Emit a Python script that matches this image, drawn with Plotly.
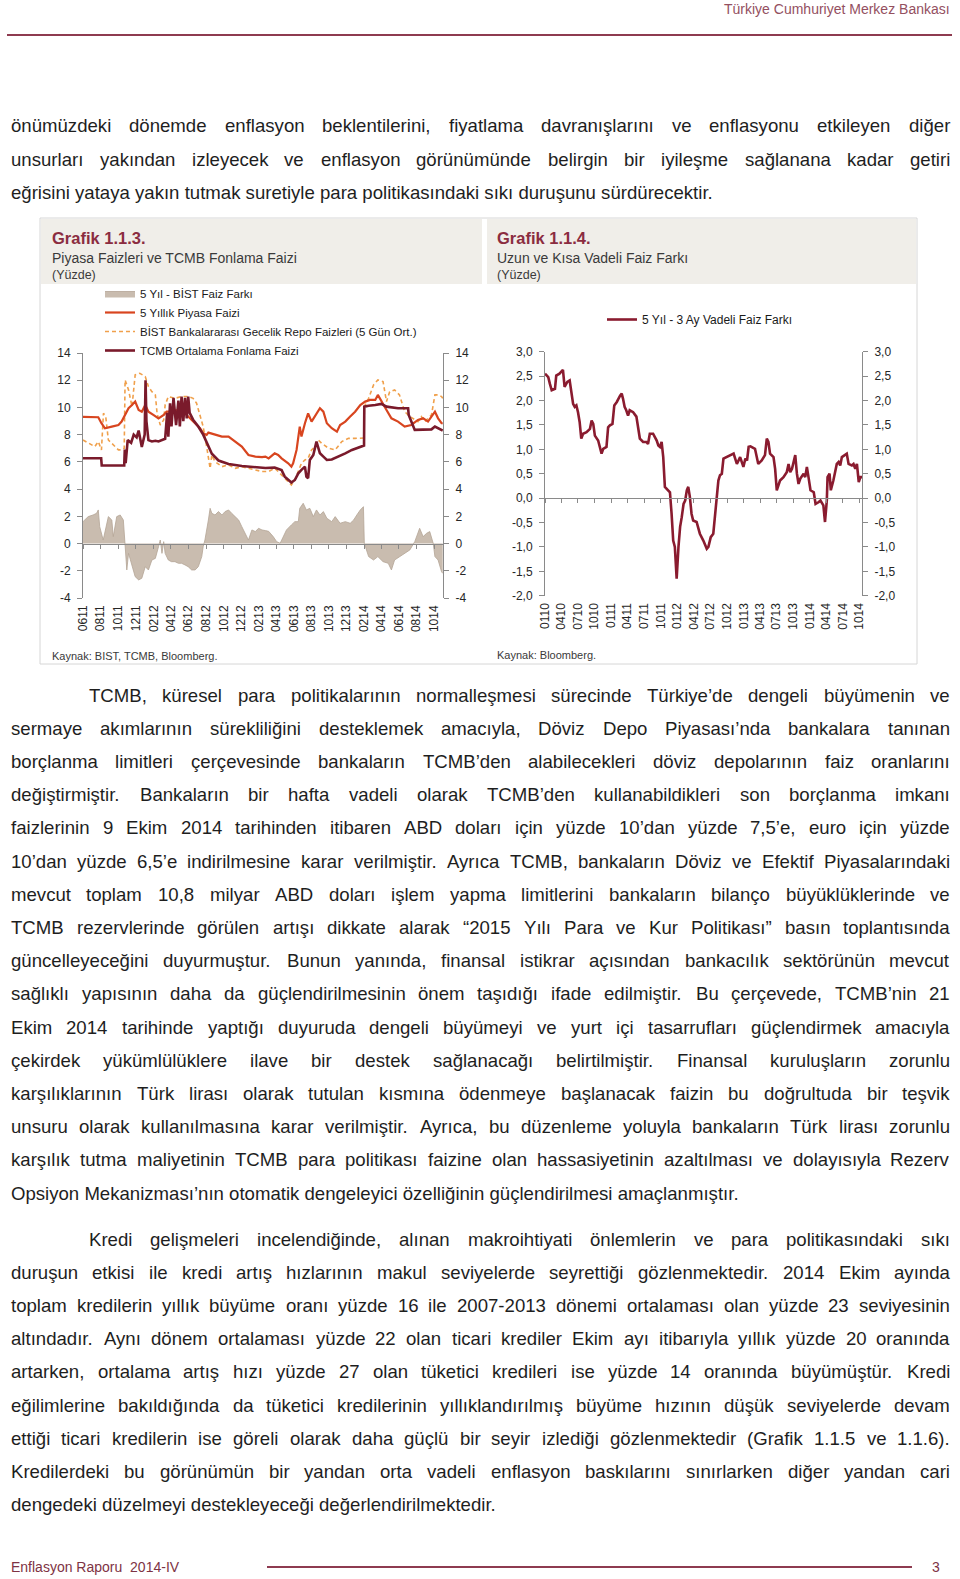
import plotly.graph_objects as go

PAGE_W, PAGE_H = 960, 1579


def X(p):
    return p / PAGE_W


def Y(p):
    return 1 - p / PAGE_H


# ---------------- Chart 1.1.3 data ----------------
tcmb_dates = ["2011-06-01", "2011-08-03", "2011-08-05", "2011-10-22", "2011-10-24", "2011-10-27", "2011-11-03",
              "2011-11-15", "2011-11-24", "2011-12-04", "2011-12-11", "2011-12-22", "2012-01-01", "2012-01-04",
              "2012-01-07", "2012-01-14", "2012-01-26", "2012-02-07", "2012-02-18", "2012-03-01", "2012-03-12",
              "2012-03-19", "2012-03-23", "2012-03-29", "2012-04-03", "2012-04-10", "2012-04-19", "2012-04-27",
              "2012-05-02", "2012-05-08", "2012-05-14", "2012-05-20", "2012-05-26", "2012-05-31", "2012-06-05",
              "2012-06-17", "2012-07-05", "2012-07-22", "2012-08-09", "2012-08-21", "2012-09-13", "2012-10-18",
              "2012-12-03", "2013-01-07", "2013-02-23", "2013-03-27", "2013-04-20", "2013-05-01", "2013-05-24",
              "2013-06-05", "2013-06-17", "2013-06-28", "2013-07-10", "2013-07-15", "2013-07-21", "2013-07-27",
              "2013-08-08", "2013-08-19", "2013-08-31", "2013-09-12", "2013-09-24", "2013-10-11", "2013-11-03",
              "2013-11-27", "2013-12-20", "2014-01-12", "2014-01-31", "2014-02-01", "2014-02-16", "2014-03-11",
              "2014-04-01", "2014-04-19", "2014-05-29", "2014-07-03", "2014-07-05", "2014-07-26", "2014-08-18",
              "2014-09-22", "2014-10-04", "2014-10-27", "2014-10-31"]
tcmb_vals = [6.27, 6.27, 5.73, 5.73, 6.9, 5.9, 7.6, 7.4, 8.0, 7.8, 8.3, 7.1, 8.0, 12.0, 9.0, 7.6, 7.5, 7.55, 7.5, 7.6,
             7.7, 9.6, 7.85, 10.3, 8.6, 10.7, 8.7, 10.5, 8.6, 10.8, 9.0, 10.7, 9.2, 10.8, 9.6, 9.1, 8.6, 8.0, 7.1, 6.6,
             6.1, 5.85, 5.7, 5.65, 5.55, 5.58, 5.4, 4.92, 4.48, 4.67, 5.16, 5.41, 5.65, 4.92, 4.80, 6.14, 6.51, 7.49,
             6.63, 6.39, 6.14, 6.18, 6.39, 6.63, 6.88, 7.07, 7.2, 10.06, 10.13, 10.18, 10.26, 10.06, 9.94, 9.94, 9.45,
             8.35, 8.35, 8.39, 8.6, 8.35, 8.3]

y5_dates = ["2011-06-01", "2011-07-24", "2011-08-04", "2011-08-16", "2011-09-09", "2011-10-02", "2011-10-13",
            "2011-10-25", "2011-11-06", "2011-11-18", "2011-11-29", "2011-12-11", "2011-12-22", "2012-01-03",
            "2012-01-14", "2012-01-31", "2012-02-18", "2012-03-07", "2012-03-17", "2012-04-03", "2012-04-27",
            "2012-05-20", "2012-06-06", "2012-06-24", "2012-07-11", "2012-07-22", "2012-08-03", "2012-08-09",
            "2012-09-01", "2012-09-25", "2012-10-18", "2012-11-10", "2012-12-03", "2012-12-26", "2013-01-19",
            "2013-02-11", "2013-02-23", "2013-03-06", "2013-03-27", "2013-04-08", "2013-04-20", "2013-05-13",
            "2013-05-24", "2013-05-30", "2013-06-11", "2013-06-22", "2013-06-28", "2013-07-10", "2013-07-21",
            "2013-08-02", "2013-08-14", "2013-08-31", "2013-09-12", "2013-09-24", "2013-10-11", "2013-10-29",
            "2013-11-09", "2013-11-27", "2013-12-14", "2013-12-31", "2014-01-18", "2014-02-04", "2014-02-21",
            "2014-03-11", "2014-03-20", "2014-04-01", "2014-04-19", "2014-05-06", "2014-05-29", "2014-06-21",
            "2014-07-14", "2014-08-06", "2014-08-24", "2014-09-10", "2014-09-28", "2014-10-04", "2014-10-15",
            "2014-10-27", "2014-10-31"]
y5_vals = [9.3, 9.28, 8.84, 8.47, 8.59, 8.71, 8.96, 9.45, 9.94, 10.18, 10.43, 9.81, 9.69, 10.18, 9.69, 9.45, 9.20,
           9.45, 9.69, 9.69, 9.81, 9.57, 9.20, 8.84, 8.47, 8.10, 7.98, 8.15, 7.98, 7.86, 7.86, 7.49, 7.12, 6.51, 6.39,
           6.35, 6.39, 6.26, 6.63, 6.51, 6.26, 5.90, 5.65, 5.90, 6.88, 8.59, 7.86, 8.84, 9.57, 8.96, 9.33, 9.94, 9.69,
           8.84, 8.47, 8.22, 8.71, 8.96, 9.33, 9.69, 10.18, 10.43, 10.55, 10.55, 10.92, 10.43, 9.81, 9.20, 8.96, 8.59,
           8.71, 9.08, 9.20, 8.96, 9.45, 9.69, 9.20, 8.84, 8.84]

repo_dates = ["2011-06-01", "2011-06-19", "2011-07-12", "2011-07-24", "2011-08-04", "2011-08-11", "2011-08-19",
              "2011-08-28", "2011-09-09", "2011-09-20", "2011-10-02", "2011-10-13", "2011-10-22", "2011-10-25",
              "2011-11-06", "2011-11-18", "2011-11-29", "2011-12-15", "2012-01-03", "2012-01-14", "2012-01-26",
              "2012-02-07", "2012-02-13", "2012-02-24", "2012-03-07", "2012-03-12", "2012-03-23", "2012-04-15",
              "2012-05-08", "2012-05-31", "2012-06-17", "2012-06-29", "2012-07-11", "2012-07-22", "2012-08-03",
              "2012-08-15", "2012-08-21", "2012-09-01", "2012-09-25", "2012-10-18", "2012-11-10", "2012-12-03",
              "2012-12-26", "2013-01-19", "2013-02-11", "2013-03-06", "2013-03-27", "2013-04-08", "2013-04-25",
              "2013-05-13", "2013-05-24", "2013-06-05", "2013-06-17", "2013-06-28", "2013-07-10", "2013-07-21",
              "2013-08-02", "2013-08-14", "2013-08-25", "2013-09-06", "2013-09-30", "2013-10-23", "2013-11-15",
              "2013-12-08", "2013-12-31", "2014-01-23", "2014-01-31", "2014-02-01", "2014-02-16", "2014-03-05",
              "2014-03-20", "2014-04-07", "2014-04-19", "2014-04-30", "2014-05-17", "2014-06-03", "2014-06-21",
              "2014-07-09", "2014-07-26", "2014-08-06", "2014-08-18", "2014-08-30", "2014-09-10", "2014-09-22",
              "2014-10-04", "2014-10-15", "2014-10-27", "2014-10-31"]
repo_vals = [7.61, 7.37, 7.12, 7.49, 6.88, 9.57, 9.3, 7.61, 7.37, 7.12, 6.88, 6.88, 7.0, 12.02, 11.29, 10.06, 12.39,
             12.51, 12.27, 11.53, 11.16, 10.92, 9.57, 8.71, 9.08, 10.18, 10.80, 10.67, 10.80, 10.80, 10.67, 10.31,
             9.33, 8.59, 7.12, 5.53, 6.51, 6.02, 5.65, 5.78, 5.53, 5.65, 5.53, 5.41, 5.29, 5.29, 5.53, 5.29, 4.92,
             4.55, 4.31, 4.67, 5.29, 5.90, 6.14, 6.26, 6.88, 7.12, 7.61, 7.37, 7.0, 6.88, 7.49, 7.73, 7.73, 7.73, 7.75,
             10.06, 10.67, 11.65, 12.02, 11.90, 10.43, 11.16, 11.29, 10.92, 9.69, 9.33, 9.08, 8.96, 9.33, 8.96, 9.20,
             9.45, 10.92, 10.92, 10.80, 10.67]

spread_dates = ["2011-06-01", "2011-06-08", "2011-06-19", "2011-07-06", "2011-07-18", "2011-07-24", "2011-07-29",
                "2011-08-10", "2011-08-22", "2011-08-28", "2011-09-09", "2011-09-14", "2011-09-26", "2011-10-08",
                "2011-10-19", "2011-10-25", "2011-10-31", "2011-11-06", "2011-11-18", "2011-11-29", "2011-12-11",
                "2011-12-22", "2012-01-03", "2012-01-14", "2012-01-26", "2012-02-07", "2012-02-18", "2012-02-24",
                "2012-03-01", "2012-03-07", "2012-03-12", "2012-03-23", "2012-04-03", "2012-04-15", "2012-04-27",
                "2012-05-08", "2012-05-20", "2012-05-31", "2012-06-12", "2012-06-24", "2012-07-05", "2012-07-17",
                "2012-07-22", "2012-07-28", "2012-08-09", "2012-08-15", "2012-08-21", "2012-09-01", "2012-09-13",
                "2012-09-25", "2012-10-06", "2012-10-18", "2012-10-29", "2012-11-10", "2012-11-22", "2012-12-03",
                "2012-12-15", "2012-12-26", "2013-01-07", "2013-01-19", "2013-01-30", "2013-02-11", "2013-02-23",
                "2013-03-06", "2013-03-22", "2013-04-03", "2013-04-15", "2013-04-25", "2013-05-07", "2013-05-24",
                "2013-06-05", "2013-06-17", "2013-06-22", "2013-07-04", "2013-07-15", "2013-07-27", "2013-08-08",
                "2013-08-19", "2013-08-31", "2013-09-12", "2013-09-24", "2013-10-11", "2013-10-23", "2013-11-09",
                "2013-11-27", "2013-12-14", "2013-12-26", "2014-01-06", "2014-01-18", "2014-01-29", "2014-02-01",
                "2014-02-16", "2014-03-05", "2014-03-20", "2014-04-07", "2014-04-25", "2014-05-06", "2014-05-17",
                "2014-06-03", "2014-06-21", "2014-07-09", "2014-07-26", "2014-08-06", "2014-08-12", "2014-08-24",
                "2014-09-05", "2014-09-16", "2014-09-28", "2014-10-04", "2014-10-15", "2014-10-27", "2014-10-31"]
spread_vals = [1.61, 1.73, 1.98, 2.10, 2.22, 2.47, 1.24, 0.26, 1.49, 1.98, 1.73, 0.51, 1.98, 2.10, 1.73, 0.02, -1.94,
               -0.72, -1.70, -2.43, -2.67, -2.55, -1.70, -1.94, -1.21, -1.09, -0.23, 0.26, -0.72, 0.14, -0.72, -1.21,
               -1.33, -1.33, -1.45, -1.45, -1.57, -1.70, -1.94, -1.94, -1.70, -0.96, -0.23, 0.26, 1.73, 2.59, 2.22,
               2.10, 2.35, 2.10, 2.35, 2.47, 2.22, 1.98, 1.73, 1.24, 0.75, 0.26, 1.00, 0.88, 1.12, 1.00, 0.95, 0.90,
               0.51, 0.14, 0.02, 0.51, 1.00, 1.37, 1.61, 1.61, 2.59, 2.96, 2.47, 2.59, 1.98, 2.47, 2.10, 2.35, 1.86,
               1.61, 1.98, 1.49, 1.61, 1.49, 1.73, 2.10, 2.47, 2.71, 0.02, -0.96, -1.21, -0.96, -1.33, -1.45, -1.94,
               -1.21, -0.96, -0.72, -0.47, 0.14, 0.75, 1.12, 0.51, 0.75, 0.88, 0.02, -0.96, -1.21, -2.07, -2.19]

left_ticks = ["0611", "0811", "1011", "1211", "0212", "0412", "0612", "0812", "1012", "1212", "0213", "0413",
              "0613", "0813", "1013", "1213", "0214", "0414", "0614", "0814", "1014"]
left_yticks = [-4, -2, 0, 2, 4, 6, 8, 10, 12, 14]

# ---------------- Chart 1.1.4 data ----------------
r_dates = ["2010-01-01", "2010-01-19", "2010-01-28", "2010-02-07", "2010-02-25", "2010-03-04", "2010-03-22",
           "2010-04-10", "2010-04-19", "2010-05-04", "2010-05-17", "2010-05-26", "2010-06-05", "2010-06-14",
           "2010-06-23", "2010-07-02", "2010-07-11", "2010-07-20", "2010-07-30", "2010-08-18", "2010-09-06",
           "2010-09-15", "2010-09-24", "2010-10-03", "2010-10-21", "2010-11-09", "2010-11-18", "2010-12-06",
           "2010-12-15", "2010-12-25",
           "2011-01-08", "2011-01-18", "2011-02-01", "2011-02-19", "2011-02-28", "2011-03-07", "2011-03-16",
           "2011-03-25", "2011-04-04", "2011-04-13", "2011-05-02", "2011-05-20", "2011-05-29", "2011-06-08",
           "2011-06-26", "2011-07-14", "2011-07-23", "2011-08-02", "2011-08-20", "2011-09-09", "2011-09-18",
           "2011-09-27", "2011-10-06", "2011-10-15", "2011-10-24", "2011-11-12", "2011-11-21", "2011-11-30",
           "2011-12-09", "2011-12-18", "2011-12-28",
           "2012-01-07", "2012-01-16", "2012-01-25", "2012-02-04", "2012-02-13", "2012-02-22", "2012-03-01",
           "2012-03-10", "2012-03-19", "2012-03-28", "2012-04-16", "2012-05-04", "2012-05-23", "2012-06-11",
           "2012-06-20", "2012-07-03", "2012-07-17", "2012-07-26", "2012-08-05", "2012-08-14", "2012-08-23",
           "2012-09-02", "2012-09-11", "2012-09-30", "2012-10-18", "2012-11-06", "2012-11-24", "2012-12-12",
           "2012-12-30",
           "2013-01-10", "2013-01-19", "2013-01-28", "2013-02-07", "2013-03-04", "2013-03-22", "2013-04-10",
           "2013-04-28", "2013-05-08", "2013-05-17", "2013-05-26", "2013-06-14", "2013-06-23", "2013-07-02",
           "2013-07-20", "2013-08-08", "2013-08-26", "2013-09-05", "2013-09-14", "2013-09-24", "2013-10-12",
           "2013-10-21", "2013-10-30", "2013-11-09", "2013-11-27", "2013-12-06", "2013-12-15", "2013-12-24",
           "2014-01-04", "2014-01-22", "2014-02-01", "2014-02-19", "2014-02-28", "2014-03-16", "2014-03-25",
           "2014-04-04", "2014-04-08", "2014-04-19", "2014-04-26", "2014-05-10", "2014-05-29", "2014-06-08",
           "2014-06-17", "2014-06-26", "2014-07-14", "2014-07-23", "2014-08-02", "2014-08-20", "2014-08-29",
           "2014-09-08", "2014-09-17", "2014-09-27", "2014-10-06", "2014-10-15"]
r_vals = [2.55, 2.48, 2.34, 2.21, 2.24, 2.51, 2.55, 2.63, 2.28, 2.38, 2.41, 2.21, 1.93, 1.87, 1.90, 1.76, 1.56, 1.22,
          1.32, 1.35, 1.42, 1.59, 1.52, 1.28, 1.18, 0.91, 1.01, 1.05, 1.45, 1.49,
          1.52, 1.90, 1.97, 2.10, 2.14, 2.04, 1.87, 1.80, 1.69, 1.80, 1.76, 1.67, 1.45, 1.22, 1.15, 1.15, 1.11, 1.32,
          1.32, 1.18, 1.08, 1.05, 1.15, 0.84, 0.23, 0.16, 0.12, -0.32, -0.87, -1.00, -1.65,
          -1.00, -0.59, -0.39, -0.12, -0.05, 0.16, 0.23, 0.02, -0.32, -0.46, -0.49, -0.73, -0.87, -1.04, -1.00,
          -0.80, -0.73, -0.32, 0.09, 0.36, 0.47, 0.50, 0.81, 0.84, 0.88, 0.91, 0.70, 0.84, 0.64,
          0.81, 0.77, 1.05, 1.06, 1.01, 0.70, 0.77, 0.88, 1.22, 1.15, 0.91, 0.84, 0.60, 0.16, 0.36, 0.43, 0.53, 0.70,
          0.53, 0.60, 0.88, 0.50, 0.29, 0.40, 0.50, 0.43, 0.64, 0.43,
          0.16, 0.12, -0.12, -0.08, -0.05, -0.15, -0.49, -0.05, 0.43, 0.50, 0.16, 0.36, 0.70, 0.74, 0.67, 0.84, 0.88,
          0.91, 0.70, 0.67, 0.70, 0.60, 0.70, 0.33, 0.43, 0.43]

right_ticks = ["0110", "0410", "0710", "1010", "0111", "0411", "0711", "1011", "0112", "0412", "0712", "1012",
               "0113", "0413", "0713", "1013", "0114", "0414", "0714", "1014"]
right_yticks = [-2.0, -1.5, -1.0, -0.5, 0.0, 0.5, 1.0, 1.5, 2.0, 2.5, 3.0]

# ---------------- Page text ----------------
header_text = "Türkiye Cumhuriyet Merkez Bankası"
footer_text = "Enflasyon Raporu  2014-IV"
page_number = "3"

para0 = [
    "önümüzdeki dönemde enflasyon beklentilerini, fiyatlama davranışlarını ve enflasyonu etkileyen diğer",
    "unsurları yakından izleyecek ve enflasyon görünümünde belirgin bir iyileşme sağlanana kadar getiri",
    "eğrisini yataya yakın tutmak suretiyle para politikasındaki sıkı duruşunu sürdürecektir.",
]
para1 = [
    "TCMB, küresel para politikalarının normalleşmesi sürecinde Türkiye’de dengeli büyümenin ve",
    "sermaye akımlarının sürekliliğini desteklemek amacıyla, Döviz Depo Piyasası’nda bankalara tanınan",
    "borçlanma limitleri çerçevesinde bankaların TCMB’den alabilecekleri döviz depolarının faiz oranlarını",
    "değiştirmiştir. Bankaların bir hafta vadeli olarak TCMB’den kullanabildikleri son borçlanma imkanı",
    "faizlerinin 9 Ekim 2014 tarihinden itibaren ABD doları için yüzde 10’dan yüzde 7,5’e, euro için yüzde",
    "10’dan yüzde 6,5’e indirilmesine karar verilmiştir. Ayrıca TCMB, bankaların Döviz ve Efektif Piyasalarındaki",
    "mevcut toplam 10,8 milyar ABD doları işlem yapma limitlerini bankaların bilanço büyüklüklerinde ve",
    "TCMB rezervlerinde görülen artışı dikkate alarak “2015 Yılı Para ve Kur Politikası” basın toplantısında",
    "güncelleyeceğini duyurmuştur. Bunun yanında, finansal istikrar açısından bankacılık sektörünün mevcut",
    "sağlıklı yapısının daha da güçlendirilmesinin önem taşıdığı ifade edilmiştir. Bu çerçevede, TCMB’nin 21",
    "Ekim 2014 tarihinde yaptığı duyuruda dengeli büyümeyi ve yurt içi tasarrufları güçlendirmek amacıyla",
    "çekirdek yükümlülüklere ilave bir destek sağlanacağı belirtilmiştir. Finansal kuruluşların zorunlu",
    "karşılıklarının Türk lirası olarak tutulan kısmına ödenmeye başlanacak faizin bu doğrultuda bir teşvik",
    "unsuru olarak kullanılmasına karar verilmiştir. Ayrıca, bu düzenleme yoluyla bankaların Türk lirası zorunlu",
    "karşılık tutma maliyetinin TCMB para politikası faizine olan hassasiyetinin azaltılması ve dolayısıyla Rezerv",
    "Opsiyon Mekanizması’nın otomatik dengeleyici özelliğinin güçlendirilmesi amaçlanmıştır.",
]
para2 = [
    "Kredi gelişmeleri incelendiğinde, alınan makroihtiyati önlemlerin ve para politikasındaki sıkı",
    "duruşun etkisi ile kredi artış hızlarının makul seviyelerde seyrettiği gözlenmektedir. 2014 Ekim ayında",
    "toplam kredilerin yıllık büyüme oranı yüzde 16 ile 2007-2013 dönemi ortalaması olan yüzde 23 seviyesinin",
    "altındadır. Aynı dönem ortalaması yüzde 22 olan ticari krediler Ekim ayı itibarıyla yıllık yüzde 20 oranında",
    "artarken, ortalama artış hızı yüzde 27 olan tüketici kredileri ise yüzde 14 oranında büyümüştür. Kredi",
    "eğilimlerine bakıldığında da tüketici kredilerinin yıllıklandırılmış büyüme hızının düşük seviyelerde devam",
    "ettiği ticari kredilerin ise göreli olarak daha güçlü bir seyir izlediği gözlenmektedir (Grafik 1.1.5 ve 1.1.6).",
    "Kredilerdeki bu görünümün bir yandan orta vadeli enflasyon baskılarını sınırlarken diğer yandan cari",
    "dengedeki düzelmeyi destekleyeceği değerlendirilmektedir.",
]

# ---------------- Styling ----------------
FONT = "Liberation Sans, Arial, sans-serif"
BODY_COLOR = "#1e1e1e"
MAROON = "#8B2C40"
AXIS_COL = "#8A8A8A"
TICK_FONT = dict(family=FONT, size=12, color="#262626")

# Arial / Liberation Sans advance widths (per 1000 em)
AW = {' ': 278, '!': 278, '"': 355, "'": 191, '(': 333, ')': 333, ',': 278, '-': 333, '.': 278, '/': 278,
      ':': 278, ';': 278, '?': 556, '’': 222, '‘': 222, '“': 333, '”': 333,
      'A': 667, 'B': 667, 'C': 722, 'D': 722, 'E': 667, 'F': 611, 'G': 778, 'H': 722, 'I': 278, 'J': 500,
      'K': 667, 'L': 556, 'M': 833, 'N': 722, 'O': 778, 'P': 667, 'Q': 778, 'R': 722, 'S': 667, 'T': 611,
      'U': 722, 'V': 667, 'W': 944, 'X': 667, 'Y': 667, 'Z': 611,
      'a': 556, 'b': 556, 'c': 500, 'd': 556, 'e': 556, 'f': 278, 'g': 556, 'h': 556, 'i': 222, 'j': 222,
      'k': 500, 'l': 222, 'm': 833, 'n': 556, 'o': 556, 'p': 556, 'q': 556, 'r': 333, 's': 500, 't': 278,
      'u': 556, 'v': 500, 'w': 722, 'x': 500, 'y': 500, 'z': 500,
      'ç': 500, 'ğ': 556, 'ı': 278, 'ö': 556, 'ş': 500, 'ü': 556,
      'Ç': 722, 'Ğ': 778, 'İ': 278, 'Ö': 778, 'Ş': 667, 'Ü': 722}
for d in "0123456789":
    AW[d] = 556


def em_width(s):
    return sum(AW.get(c, 556) for c in s) / 1000.0


TEXT_L, TEXT_R, INDENT_L = 11, 950, 89
LINE_H = 33.2

# paragraphs: (lines, first-line left, first line y)
paragraphs = [(para0, TEXT_L, 126), (para1, INDENT_L, 695), (para2, INDENT_L, 1239)]

# choose a body font size such that all justified lines fit
size_cands = [18.6]
for lines, first_left, _ in paragraphs:
    for i, ln in enumerate(lines[:-1]):
        left = first_left if i == 0 else TEXT_L
        words = ln.split(' ')
        need = sum(em_width(w) for w in words) + 0.16 * (len(words) - 1)
        size_cands.append((TEXT_R - left) / need)
BODY_SIZE = min(size_cands)

annotations = []


def ann(x, y, text, size, color, xanchor='left', family=FONT, yanchor='middle', textangle=0):
    annotations.append(dict(x=X(x), y=Y(y), xref='paper', yref='paper', text=text, showarrow=False,
                            xanchor=xanchor, yanchor=yanchor, borderpad=0, borderwidth=0,
                            textangle=textangle, font=dict(family=family, size=size, color=color)))


for lines, first_left, y0 in paragraphs:
    for i, ln in enumerate(lines):
        y = y0 + i * LINE_H
        left = first_left if i == 0 else TEXT_L
        if i == len(lines) - 1:
            ann(left, y, ln, BODY_SIZE, BODY_COLOR)
            continue
        words = ln.split(' ')
        ws = [em_width(w) * BODY_SIZE for w in words]
        gap = (TEXT_R - left - sum(ws)) / (len(words) - 1)
        x = left
        for j, (w, ww) in enumerate(zip(words, ws)):
            if j == len(words) - 1:
                ann(TEXT_R, y, w, BODY_SIZE, BODY_COLOR, xanchor='right')
            else:
                ann(x, y, w, BODY_SIZE, BODY_COLOR)
            x += ww + gap

# header / footer
ann(950, 9, header_text, 14, "#94505F", xanchor='right')
ann(11, 1567, footer_text, 14, "#7E3344")
ann(940, 1567, page_number, 14, "#7E3344", xanchor='right')

# chart titles
ann(52, 238, "<b>Grafik 1.1.3.</b>", 16.5, MAROON)
ann(52, 258, "Piyasa Faizleri ve TCMB Fonlama Faizi", 14, "#3a3a3a")
ann(52, 275, "(Yüzde)", 12.5, "#3a3a3a")
ann(497, 238, "<b>Grafik 1.1.4.</b>", 16.5, MAROON)
ann(497, 258, "Uzun ve Kısa Vadeli Faiz Farkı", 14, "#3a3a3a")
ann(497, 275, "(Yüzde)", 12.5, "#3a3a3a")
ann(52, 656, "Kaynak: BIST, TCMB, Bloomberg.", 11, "#3a3a3a")
ann(497, 655, "Kaynak: Bloomberg.", 11, "#3a3a3a")

shapes = [
    dict(type='line', xref='paper', yref='paper', x0=X(7), x1=X(952), y0=Y(35), y1=Y(35),
         line=dict(color="#8E3B50", width=2)),
    dict(type='rect', xref='paper', yref='paper', x0=X(41), x1=X(482), y0=Y(284), y1=Y(219),
         fillcolor="#F0EEE9", line=dict(width=0), layer='below'),
    dict(type='rect', xref='paper', yref='paper', x0=X(487), x1=X(916), y0=Y(284), y1=Y(219),
         fillcolor="#F0EEE9", line=dict(width=0), layer='below'),
    dict(type='rect', xref='paper', yref='paper', x0=X(40), x1=X(917), y0=Y(664), y1=Y(218),
         fillcolor="rgba(0,0,0,0)", line=dict(color="#D6D6D6", width=1), layer='below'),
    dict(type='line', xref='paper', yref='paper', x0=X(267), x1=X(912), y0=Y(1567), y1=Y(1567),
         line=dict(color="#8E3B50", width=2)),
]

# ---------------- Figure ----------------
fig = go.Figure()

fig.add_trace(go.Scatter(x=spread_dates, y=spread_vals, name="5 Yıl - BİST Faiz Farkı", mode='lines',
                         fill='tozeroy', fillcolor="#C9BCAF", line=dict(color="#B4A596", width=0.8),
                         legend='legend', legendrank=1, xaxis='x', yaxis='y', hoverinfo='skip'))
fig.add_trace(go.Scatter(x=repo_dates, y=repo_vals, name="BİST Bankalararası Gecelik Repo Faizleri (5 Gün Ort.)",
                         mode='lines', line=dict(color="#F0A04B", width=1.6, dash='4px,3px'),
                         legend='legend', legendrank=3, xaxis='x', yaxis='y', hoverinfo='skip'))
fig.add_trace(go.Scatter(x=y5_dates, y=y5_vals, name="5 Yıllık Piyasa Faizi", mode='lines',
                         line=dict(color="#D8451F", width=2.2), legend='legend', legendrank=2,
                         xaxis='x', yaxis='y', hoverinfo='skip'))
fig.add_trace(go.Scatter(x=tcmb_dates, y=tcmb_vals, name="TCMB Ortalama Fonlama Faizi", mode='lines',
                         line=dict(color="#7A1A2B", width=2.6), legend='legend', legendrank=4,
                         xaxis='x', yaxis='y', hoverinfo='skip'))
# helper traces so the mirrored right axis and the zero-line axis are drawn
fig.add_trace(go.Scatter(x=tcmb_dates, y=tcmb_vals, mode='lines', opacity=0, showlegend=False,
                         xaxis='x', yaxis='y2', hoverinfo='skip'))
fig.add_trace(go.Scatter(x=tcmb_dates, y=tcmb_vals, mode='lines', opacity=0, showlegend=False,
                         xaxis='x3', yaxis='y', hoverinfo='skip'))

fig.add_trace(go.Scatter(x=r_dates, y=r_vals, name="5 Yıl - 3 Ay Vadeli Faiz Farkı", mode='lines',
                         line=dict(color="#8A1B2F", width=2.6), legend='legend2',
                         xaxis='x2', yaxis='y3', hoverinfo='skip'))
fig.add_trace(go.Scatter(x=r_dates, y=r_vals, mode='lines', opacity=0, showlegend=False,
                         xaxis='x2', yaxis='y4', hoverinfo='skip'))
fig.add_trace(go.Scatter(x=r_dates, y=r_vals, mode='lines', opacity=0, showlegend=False,
                         xaxis='x4', yaxis='y3', hoverinfo='skip'))

# geometry of the two plot areas (page pixels)
L_X0, L_X1, L_YB, L_YT = 83, 443, 598, 353
R_X0, R_X1, R_YB, R_YT = 545, 862, 595.7, 351.7
L_RANGE = [-4, 14]
R_RANGE = [-2, 3]
L_XRANGE = ["2011-06-01", "2014-11-01"]
R_XRANGE = ["2010-01-01", "2014-10-15"]

left_tickvals = ["20%s-%s-01" % (t[2:], t[:2]) for t in left_ticks]
right_tickvals = ["20%s-%s-01" % (t[2:], t[:2]) for t in right_ticks]


def zero_pos(yb, yt, rng):
    frac = (0 - rng[0]) / (rng[1] - rng[0])
    return Y(yb) + frac * (Y(yt) - Y(yb))


def xlabel_axis(domain, anchor, rng, vals, text):
    return dict(domain=domain, anchor=anchor, type='date', range=rng, tickmode='array', tickvals=vals,
                ticktext=text, tickangle=-90, showgrid=False, zeroline=False, showline=False, ticks='',
                tickfont=TICK_FONT, automargin=False, fixedrange=True, ticklabelstandoff=4)


def zero_axis(over, pos, rng, vals):
    return dict(overlaying=over, anchor='free', position=pos, type='date', range=rng, tickmode='array',
                tickvals=vals, ticks='outside', ticklen=4, tickcolor=AXIS_COL, showline=True,
                linecolor=AXIS_COL, linewidth=1, showticklabels=False, showgrid=False, zeroline=False,
                automargin=False, fixedrange=True)


def y_axis(domain, anchor, rng, vals, text, side='left', over=None):
    d = dict(anchor=anchor, range=rng, tickmode='array', tickvals=vals, ticktext=text, ticks='outside',
             ticklen=5, tickcolor=AXIS_COL, showline=True, linecolor=AXIS_COL, linewidth=1, showgrid=False,
             zeroline=False, tickfont=TICK_FONT, side=side, automargin=False, fixedrange=True,
             ticklabelstandoff=4)
    if over:
        d['overlaying'] = over
    else:
        d['domain'] = domain
    return d


l_ytext = [str(v) for v in left_yticks]
r_ytext = [("%.1f" % v).replace('.', ',') for v in right_yticks]

fig.update_layout(
    width=PAGE_W, height=PAGE_H, margin=dict(l=0, r=0, t=0, b=0, pad=0),
    paper_bgcolor='white', plot_bgcolor='rgba(0,0,0,0)', hovermode=False,
    xaxis=xlabel_axis([X(L_X0), X(L_X1)], 'y', L_XRANGE, left_tickvals, left_ticks),
    xaxis3=zero_axis('x', zero_pos(L_YB, L_YT, L_RANGE), L_XRANGE, left_tickvals),
    yaxis=y_axis([Y(L_YB), Y(L_YT)], 'x', L_RANGE, left_yticks, l_ytext),
    yaxis2=y_axis(None, 'x', L_RANGE, left_yticks, l_ytext, side='right', over='y'),
    xaxis2=xlabel_axis([X(R_X0), X(R_X1)], 'y3', R_XRANGE, right_tickvals, right_ticks),
    xaxis4=zero_axis('x2', zero_pos(R_YB, R_YT, R_RANGE), R_XRANGE, right_tickvals),
    yaxis3=y_axis([Y(R_YB), Y(R_YT)], 'x2', R_RANGE, right_yticks, r_ytext),
    yaxis4=y_axis(None, 'x2', R_RANGE, right_yticks, r_ytext, side='right', over='y3'),
    legend=dict(x=X(100), y=Y(279), xanchor='left', yanchor='top', bgcolor='rgba(0,0,0,0)',
                font=dict(family=FONT, size=11.5, color="#1a1a1a"), tracegroupgap=0, traceorder='normal',
                borderwidth=0),
    legend2=dict(x=X(602), y=Y(305), xanchor='left', yanchor='top', bgcolor='rgba(0,0,0,0)',
                 font=dict(family=FONT, size=12, color="#1a1a1a"), borderwidth=0),
    showlegend=True,
    annotations=annotations,
    shapes=shapes,
)

fig.write_html("out.html", config={'displayModeBar': False},
               post_script="document.body.style.margin='0';document.body.style.overflow='hidden';")
